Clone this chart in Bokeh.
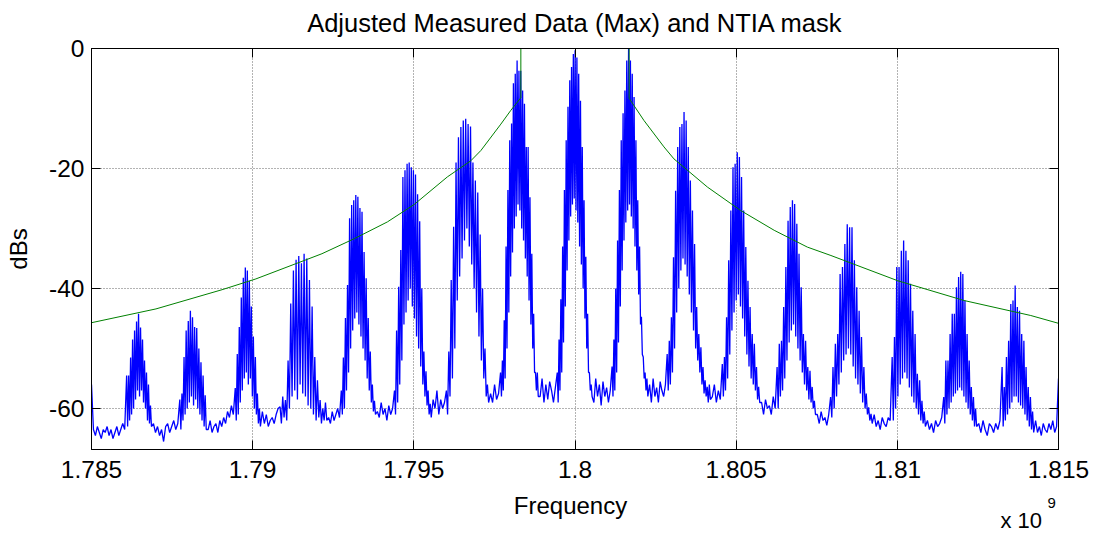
import numpy as np
from bokeh.plotting import figure
from bokeh.layouts import column
from bokeh.models import FixedTicker, Label, LinearAxis, Range1d
from bokeh.embed import file_html
from bokeh.resources import INLINE

# ---------------- data ----------------
x_ticks_mhz = [1785, 1790, 1795, 1800, 1805, 1810, 1815]
x_tick_labels = ["1.785", "1.79", "1.795", "1.8", "1.805", "1.81", "1.815"]
y_ticks = [-60, -40, -20, 0]
y_tick_labels = ["-60", "-40", "-20", "0"]

# spectral clusters (MHz edges)
cluster_start_mhz = [1786.09, 1787.74, 1789.46, 1790.85, 1792.75, 1794.40, 1796.01, 1797.69, 1799.45,
                     1801.15, 1802.86, 1804.57, 1806.27, 1807.93, 1809.84, 1811.44, 1813.25]
cluster_end_mhz = [1786.86, 1788.56, 1790.24, 1792.30, 1793.81, 1795.54, 1797.32, 1798.86, 1800.53,
                   1802.26, 1804.20, 1805.73, 1807.46, 1809.22, 1810.87, 1812.46, 1814.23]

# spike tops (dB) of each cluster, left to right
cluster_tops = [
    [-54.5, -54.5, -51.5, -48.5, -47, -45.5, -44.2, -46.5, -48.5, -52, -54, -56, -59.5],
    [-58.5, -57.5, -51.4, -47, -45.4, -43.7, -44.8, -46.4, -46.6, -50, -52.3, -54.5, -57.8],
    [-56.6, -50.9, -46.4, -41.5, -38.2, -36.5, -37, -38.7, -43, -48, -51.4, -57.5, -60],
    [-59.7, -58, -58.6, -52, -42.5, -37, -35.2, -34.6, -35.8, -34.2, -35, -38.6, -43, -51.4, -55.3, -58.6, -60, -59],
    [-57, -51.5, -44.9, -39.4, -28.3, -26.1, -25.3, -24.4, -24.7, -26.6, -27.2, -33.9, -38.3, -44.9, -50.5, -56, -58.7],
    [-57, -47, -39.7, -33.6, -21.4, -20.3, -19.2, -19, -19.8, -20.3, -21, -24.3, -28.8, -40, -50.5, -53.8, -57, -59.2],
    [-57, -50.5, -38.6, -29.7, -19, -14.8, -13.1, -12, -11.7, -12.6, -13, -19, -22, -24, -31, -40, -50, -56],
    [-54, -52, -45.3, -33, -23.6, -15.3, -12.5, -5.8, -4.2, -2, -3.7, -3.7, -7, -9.2, -16.4, -16.4, -24.8, -34.2, -44.2, -54, -54],
    [-54, -48.5, -41.8, -33, -23.6, -15.3, -9.7, -5.3, -3.1, -0.9, -0.3, -1.5, -4.2, -8.7, -16.4, -25.3, -34.7, -44.2, -54, -56],
    [-53, -48.5, -40, -32, -23.6, -15.3, -10.8, -7, -2, 0, -2, -4.2, -8.1, -15.3, -25.3, -33, -44.7, -51.4, -54, -55],
    [-50.9, -48.7, -44.8, -34.8, -23.7, -16.4, -13.1, -12.6, -10.6, -12, -16.4, -22, -27, -32.6, -43.1, -47.6, -49.8, -53.1, -55.3, -56.4, -56],
    [-52.6, -51.4, -44.8, -35.3, -27, -19.8, -19.2, -17.3, -18.1, -21.4, -27, -33.1, -38.7, -43.1, -47.6, -49.2, -53.1, -56.4],
    [-53.1, -49.2, -48.7, -43.1, -36.4, -28.7, -26.4, -25.3, -25.9, -29.2, -34.2, -39.8, -47.6, -48.7, -53.1, -53.7, -56.4, -58.7],
    [-58.1, -53.1, -49.2, -47.6, -37.6, -36.4, -32.6, -29.3, -29.8, -29.8, -35.3, -39.8, -43.7, -48.1, -53.1, -57.5, -59.8, -60.9],
    [-51.4, -48.1, -36.4, -36.4, -33.7, -32, -33.7, -35.3, -39.2, -43.7, -47.6, -54.2, -55.3, -58.7, -60.5],
    [-58.1, -52, -52, -47.6, -44.2, -44.2, -39.8, -38.1, -37.2, -37.6, -42, -47.6, -52, -56.4, -58.1, -60],
    [-53.1, -56.4, -51.4, -48.7, -42.6, -42, -39.5, -43.1, -43.7, -47.6, -48.7, -53.1, -56.4, -58.1, -60.5],
]

# troughs (dB) following each spike
cluster_bottoms = [
    [-63, -62, -61, -60, -58.5, -57, -58, -57, -59, -60, -62, -62.5, -63],
    [-63.5, -62, -61, -60, -59, -58, -59.5, -58.5, -60, -61, -62, -63, -63.5],
    [-62, -61, -59, -57, -55, -54, -56, -55, -58, -60, -61, -62.5, -63],
    [-62.5, -61.5, -62, -60, -58, -57, -58.5, -56, -57.5, -58, -59.5, -60, -61, -62, -61.5, -62.5, -62, -62],
    [-61, -60, -57, -54, -50, -47, -45, -44, -46, -48, -50, -52, -55, -57, -59, -60.5, -61],
    [-61, -59, -56, -52, -46, -44, -42, -40, -43, -45, -48, -50, -53, -56, -58, -59.5, -61, -61.5],
    [-61, -58, -55, -50, -42, -38, -35, -32, -30, -33, -36, -40, -44, -48, -52, -55, -58, -59],
    [-58, -57, -55, -50, -44, -38, -34, -30, -28, -26, -27, -30, -32, -35, -38, -42, -46, -50, -54, -57, -58],
    [-59, -57, -54, -49, -43, -37, -32, -28, -26, -25, -27, -29, -33, -36, -40, -45, -50, -54, -57, -58],
    [-58, -57, -54, -49, -43, -37, -32, -29, -27, -26, -28, -30, -33, -37, -41, -46, -51, -55, -57, -58],
    [-57, -56, -54, -50, -44, -40, -37, -35, -36, -38, -41, -44, -47, -50, -52, -54, -56, -57.5, -58, -59, -58.5],
    [-58, -57, -55, -51, -47, -44, -42, -41, -43, -45, -48, -51, -53, -55, -56, -57, -58.5, -59],
    [-60, -58, -57, -55, -52, -49, -47, -46, -48, -50, -52, -54, -56, -57, -58.5, -59, -60, -61],
    [-61.5, -60, -58, -56, -54, -52, -51, -50, -51, -53, -55, -56, -57.5, -59, -60, -61, -62, -62.5],
    [-62, -60, -58, -56, -55, -54, -55, -56.5, -58, -59, -60, -61, -62, -62.5, -63],
    [-62.5, -61, -60, -59, -58, -57.5, -57, -56.5, -57, -58, -59, -60, -61, -62, -63, -63],
    [-63, -62, -61, -60, -59, -58, -58, -59, -59.5, -60, -61, -62, -63, -63.5, -64],
]

# noise floor (dB) in the gaps before each cluster, and after the last one
gap_floor = [
    [-63.5, -64.5, -63, -64, -65, -63.5, -64, -63, -64.5, -63.5, -65, -64, -63, -64.5, -63.5, -62.5, -63.5],
    [-62.5, -64, -63, -64.5, -63.5, -65.5, -63, -62.5, -64, -63, -62, -63.5, -62.5],
    [-63.5, -62, -64, -63, -62.5, -64, -62, -63, -61.5, -62.5, -60.5, -61.5, -59.5, -61],
    [-60.5, -62.5, -61, -63, -62, -61.5, -62.5, -61, -60],
    [-61.5, -62.5, -60.5, -62, -61, -60, -61.5],
    [-60.5, -61.5, -59, -61, -60, -62, -59.5, -61, -60],
    [-58.5, -60, -57, -61, -58.5, -60, -59],
    [-57.5, -59, -56, -58.5, -57.5],
    [-58, -55, -59, -56, -58.5, -55.5, -57, -59, -56.5],
    [-59, -55, -58, -56, -59.5, -55.5, -58, -56.5, -59, -57],
    [-56, -59, -55, -58, -56.5, -59, -55.5, -57, -58, -56],
    [-58, -56, -59, -57, -58.5],
    [-59, -61, -58.5, -60, -59.5, -61, -58, -60],
    [-61, -62.5, -60.5, -62, -61.5, -62.8, -61],
    [-61, -63, -62, -63.5, -61.5, -62.5, -63, -61.5, -62],
    [-62, -63.5, -62.5, -64, -62, -63, -62.5, -61.5],
    [-62.5, -64, -62, -63.5, -64.5, -62.5, -63, -64, -62.5, -63.5, -62],
    [-62, -64, -63, -64.5, -62.5, -63.5, -64, -62.5, -63.5, -62, -64, -63],
]
span_mhz = [1785.0, 1815.0]
edge_db = [-56, -55]

# NTIA mask
mask_freq_mhz = [1785.0, 1787.0, 1789.05, 1790.1, 1792.15, 1793.15, 1794.18, 1795.01, 1796.04, 1796.77,
                 1797.08, 1797.70, 1798.01, 1798.32, 1798.32, 1801.68, 1801.68, 1802.14, 1802.76, 1803.07,
                 1804.11, 1805.14, 1806.18, 1807.21, 1807.94, 1810.01, 1812.07, 1814.14, 1815.0]
mask_db = [-45.7, -43.4, -40.2, -38.4, -34.2, -31.7, -28.9, -26.0, -21.4, -18.7,
           -17.0, -12.6, -10.3, -8.2, 0, 0, -8.3, -12.0, -16.4, -18.4,
           -23.1, -27.0, -30.3, -33.1, -34.5, -38.7, -42.0, -44.5, -45.8]

title_text = "Adjusted Measured Data (Max) and NTIA mask"
x_label = "Frequency"
y_label = "dBs"
x_exponent = ["x 10", "9"]

# ---------------- build trace ----------------
fx, fy = [span_mhz[0]], [edge_db[0]]
prev_end = span_mhz[0]
for i in range(len(cluster_tops)):
    g = gap_floor[i]
    xs = np.linspace(prev_end, cluster_start_mhz[i], len(g) + 2)[1:-1]
    fx += list(xs)
    fy += g
    tops, bots = cluster_tops[i], cluster_bottoms[i]
    xs = np.linspace(cluster_start_mhz[i], cluster_end_mhz[i], 2 * len(tops))
    for k in range(len(tops)):
        fx += [xs[2 * k], xs[2 * k + 1]]
        fy += [tops[k], bots[k]]
    prev_end = cluster_end_mhz[i]
g = gap_floor[-1]
xs = np.linspace(prev_end, span_mhz[1], len(g) + 2)[1:-1]
fx += list(xs)
fy += g
fx.append(span_mhz[1])
fy.append(edge_db[1])

fx_hz = [f * 1e6 for f in fx]
mask_hz = [f * 1e6 for f in mask_freq_mhz]
tick_hz = [m * 1e6 for m in x_ticks_mhz]

# ---------------- main figure ----------------
FONT = "Liberation Sans"
p = figure(width=1095, height=488, output_backend="svg", toolbar_location=None,
           x_range=Range1d(1785e6, 1815e6), y_range=Range1d(-66.83, 0),
           min_border_left=91, min_border_right=37, min_border_top=48, min_border_bottom=39)
p.outline_line_color = "black"
p.outline_line_width = 1
p.background_fill_color = "white"
p.border_fill_color = "white"

p.line(fx_hz, fy, line_color="#0000FF", line_width=1.3)
p.line(mask_hz, mask_db, line_color="#008000", line_width=1)

for ax in (p.xaxis[0], p.yaxis[0]):
    ax.major_tick_in = 9
    ax.major_tick_out = 0
    ax.minor_tick_line_color = None
    ax.axis_line_color = "black"
    ax.major_tick_line_color = "black"
    ax.major_label_text_font = FONT
    ax.major_label_text_font_size = "24.5px"
    ax.major_label_text_color = "black"

p.xaxis.ticker = FixedTicker(ticks=tick_hz)
p.xaxis.major_label_overrides = {t: l for t, l in zip(tick_hz, x_tick_labels)}
p.xaxis.major_label_standoff = 11
p.yaxis.ticker = FixedTicker(ticks=y_ticks)
p.yaxis.major_label_overrides = {t: l for t, l in zip(y_ticks, y_tick_labels)}
p.yaxis.major_label_standoff = 7
p.yaxis.axis_label = y_label
p.yaxis.axis_label_text_font = FONT
p.yaxis.axis_label_text_font_size = "24px"
p.yaxis.axis_label_text_font_style = "normal"
p.yaxis.axis_label_text_color = "black"
p.yaxis.axis_label_standoff = 14

top_axis = LinearAxis(ticker=FixedTicker(ticks=tick_hz), major_tick_in=9, major_tick_out=0,
                      minor_tick_line_color=None, axis_line_color="black",
                      major_label_text_font_size="1px", major_label_text_alpha=0,
                      major_label_standoff=0,
                      axis_label=title_text, axis_label_text_font=FONT,
                      axis_label_text_font_size="25.5px", axis_label_text_font_style="normal",
                      axis_label_text_color="black", axis_label_standoff=12)
p.add_layout(top_axis, "above")
right_axis = LinearAxis(ticker=FixedTicker(ticks=y_ticks), major_tick_in=9, major_tick_out=0,
                        minor_tick_line_color=None, axis_line_color="black",
                        major_label_text_font_size="1px", major_label_text_alpha=0,
                        major_label_standoff=0)
p.add_layout(right_axis, "right")

for gr in (p.xgrid[0], p.ygrid[0]):
    gr.grid_line_color = "black"
    gr.grid_line_alpha = 0.6
    gr.grid_line_dash = "1 2"
p.xgrid.ticker = FixedTicker(ticks=tick_hz)
p.ygrid.ticker = FixedTicker(ticks=y_ticks)

# ---------------- bottom strip with axis label and exponent ----------------
# in a column, this strip's frame is aligned with the main frame (x 91..1058 on the page);
# the strip itself sits about 8 px lower than the main figure's bottom edge
q = figure(width=1095, height=47, output_backend="svg", toolbar_location=None,
           x_axis_location=None, y_axis_location=None,
           x_range=Range1d(91, 1058), y_range=Range1d(535, 488),
           min_border_left=0, min_border_right=0, min_border_top=0, min_border_bottom=0)
q.grid.visible = False
q.outline_line_color = None
q.background_fill_color = "white"
q.border_fill_color = "white"
q.add_layout(Label(x=570, y=505, text=x_label, text_align="center", text_baseline="alphabetic",
                   text_font=FONT, text_font_size="24px", text_color="black"))
q.add_layout(Label(x=1000, y=520, text=x_exponent[0], text_align="left", text_baseline="alphabetic",
                   text_font=FONT, text_font_size="22px", text_color="black"))
q.add_layout(Label(x=1047, y=502, text=x_exponent[1], text_align="left", text_baseline="alphabetic",
                   text_font=FONT, text_font_size="15px", text_color="black"))

layout = column(p, q, spacing=0)
open("out.html", "w").write(file_html(layout, INLINE))
